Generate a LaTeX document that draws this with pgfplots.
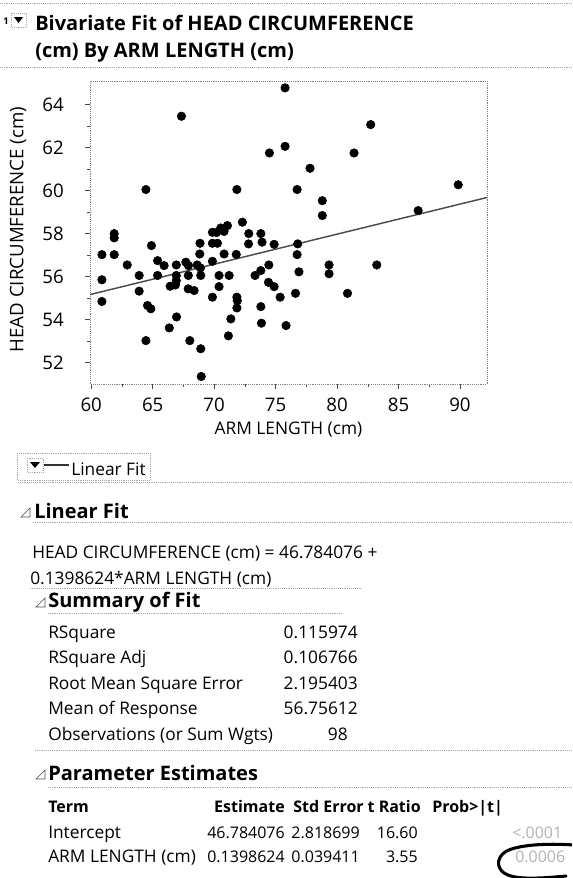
\documentclass[border=0pt]{standalone}
\usepackage{fontspec}
\setmainfont{Open Sans}
\usepackage{pgfplots}
\pgfplotsset{compat=1.18}
\newcommand\rg{\fontsize{13}{15}\selectfont}
\newcommand\nm{\fontsize{12}{14}\selectfont}
\newcommand\bd{\fontsize{15}{18}\selectfont\bfseries}
\newcommand\hd{\fontsize{12}{14}\selectfont\bfseries}
\begin{document}
\begin{tikzpicture}
\useasboundingbox (0,0) rectangle (429pt,-658.5pt);
\clip (0,0) rectangle (429pt,-658.5pt);
\begin{axis}[
  at={(67.5pt,-60.75pt)}, anchor=north west,
  scale only axis, width=297.75pt, height=227.25pt,
  xmin=59.9, xmax=92.2, ymin=51, ymax=65.1,
  xtick={60,65,...,90}, ytick={52,54,...,64},
  minor x tick num=1, minor y tick num=1,
  tick align=outside, major tick length=3.5pt, minor tick length=2pt,
  tick style={gray!60!black, thin},
  axis line style={gray, densely dotted, thin},
  xtick pos=bottom, ytick pos=left,
  /pgf/number format/assume math mode=true,
  ticklabel style={font=\fontsize{14}{16}\selectfont},
  xticklabel style={anchor=center, yshift=-12pt},
  yticklabel style={anchor=east, inner sep=0pt, xshift=-16pt},
  xlabel={ARM LENGTH (cm)}, ylabel={HEAD CIRCUMFERENCE (cm)},
  xlabel style={font=\fontsize{13}{15}\selectfont, at={(axis description cs:0.5,-0.152)}, anchor=center},
  ylabel style={font=\fontsize{14}{16}\selectfont, at={(axis description cs:-0.181,0.51)}, anchor=center},
  clip=false,
]
\addplot[gray!60!black, line width=1.1pt] coordinates {(59.9,55.162) (92.2,59.679)};
\addplot[only marks, mark=*, mark size=3.2pt, black] table {
x y
60.87 57.02
60.87 55.85
60.87 54.84
61.87 58.00
61.87 57.80
61.87 57.02
62.93 56.54
63.90 56.05
63.90 55.32
64.45 60.05
64.45 53.02
64.58 54.65
64.85 54.50
64.90 57.44
65.40 56.74
65.40 56.05
65.93 56.51
66.35 53.61
66.42 55.55
66.92 56.54
66.92 56.05
66.92 55.81
66.85 55.61
66.94 54.12
67.34 63.46
67.70 56.67
67.91 56.51
67.90 56.05
67.89 55.43
68.02 53.02
68.37 55.35
68.62 56.54
68.85 57.55
68.83 57.05
68.91 56.05
68.88 56.40
68.91 52.64
68.95 51.35
69.86 58.06
70.20 58.05
69.86 57.55
69.86 56.71
69.86 55.04
70.27 57.55
70.40 56.05
70.40 55.53
70.54 58.26
70.81 58.10
70.81 57.05
71.08 58.37
71.22 56.05
71.16 53.24
71.36 54.03
71.85 60.05
71.80 57.03
71.85 55.04
71.88 54.88
71.85 54.54
72.30 58.53
72.82 58.00
72.80 57.52
73.33 56.05
73.80 58.00
73.90 57.60
73.80 56.28
73.80 54.60
73.85 53.83
74.50 61.75
74.45 56.54
74.42 55.73
74.88 57.50
74.88 55.53
75.37 55.04
75.77 64.78
75.77 62.06
75.85 53.72
76.75 60.05
76.80 57.52
76.75 57.02
76.90 56.22
76.62 55.22
77.80 61.04
78.80 59.53
78.80 58.84
79.35 56.54
79.35 56.13
80.85 55.22
81.38 61.75
82.74 63.07
83.23 56.54
86.60 59.07
89.86 60.27
};
\end{axis}
\begin{scope}[x=0.75pt,y=-0.75pt]
% separators
\draw[gray!70, densely dotted] (0,3) -- (572,3);
\draw[gray!70, densely dotted] (0,67) -- (572,67);
\draw[gray!70, densely dotted] (18,482) -- (572,482);
\draw[gray!70, densely dotted] (33,522) -- (572,522);
\draw[gray!70, densely dotted] (30,588) -- (362,588);
\draw[gray!70, densely dotted] (48,613) -- (342,613);
\draw[gray!70, densely dotted] (35,750) -- (572,750);
\draw[gray!70, densely dotted] (48,787) -- (572,787);
% top icon
\node[anchor=base west, inner sep=0, font=\fontsize{7}{8}\selectfont\bfseries] at (3,24) {1};
\draw[gray!70, densely dotted] (11,13) rectangle (26,27);
\fill[black] (14,17) -- (23,17) -- (18.5,23) -- cycle;
% title
\node[anchor=base west, inner sep=0] at (35,30) {\bd Bivariate Fit of HEAD CIRCUMFERENCE};
\node[anchor=base west, inner sep=0] at (35,57) {\bd (cm) By ARM LENGTH (cm)};
% legend button
\draw[gray!70, densely dotted] (17,453) rectangle (150,480);
\draw[gray!70, densely dotted] (27,458) rectangle (43,472);
\fill[black] (30,462) -- (40,462) -- (35,468) -- cycle;
\draw[gray!40!black, line width=0.8pt] (44,465) -- (69,465);
\node[anchor=base west, inner sep=0] at (71,475) {\rg Linear Fit};
% disclosure triangles
\draw[gray!60!black] (21,517) -- (30,508) -- (30,517) -- cycle;
\draw[gray!60!black] (36,607) -- (45,598) -- (45,607) -- cycle;
\draw[gray!60!black] (36,779) -- (45,770) -- (45,779) -- cycle;
% Linear fit
\node[anchor=base west, inner sep=0] at (34,518) {\bd Linear Fit};
\node[anchor=base west, inner sep=0] at (32,558) {\rg HEAD CIRCUMFERENCE (cm) = 46.784076 +};
\node[anchor=base west, inner sep=0] at (30,584) {\rg 0.1398624*ARM LENGTH (cm)};
% summary of fit
\node[anchor=base west, inner sep=0] at (48,607) {\bd Summary of Fit};
\node[anchor=base west, inner sep=0] at (48,638) {\rg RSquare};
\node[anchor=base west, inner sep=0] at (48,663.5) {\rg RSquare Adj};
\node[anchor=base west, inner sep=0] at (48,689) {\rg Root Mean Square Error};
\node[anchor=base west, inner sep=0] at (48,714.5) {\rg Mean of Response};
\node[anchor=base west, inner sep=0] at (48,740) {\rg Observations (or Sum Wgts)};
\node[anchor=base east, inner sep=0] at (358,638) {\rg 0.115974};
\node[anchor=base east, inner sep=0] at (358,663.5) {\rg 0.106766};
\node[anchor=base east, inner sep=0] at (358,689) {\rg 2.195403};
\node[anchor=base east, inner sep=0] at (358,714.5) {\rg 56.75612};
\node[anchor=base east, inner sep=0] at (348,740) {\rg 98};
% parameter estimates
\node[anchor=base west, inner sep=0] at (48,780) {\bd Parameter Estimates};
\node[anchor=base west, inner sep=0] at (48,812) {\hd Term};
\node[anchor=base east, inner sep=0] at (285,812) {\hd Estimate};
\node[anchor=base east, inner sep=0] at (364,812) {\hd Std Error};
\node[anchor=base east, inner sep=0] at (421,812) {\hd t Ratio};
\node[anchor=base west, inner sep=0] at (432,812) {\hd Prob>|t|};
\node[anchor=base west, inner sep=0] at (48,838) {\rg Intercept};
\node[anchor=base east, inner sep=0] at (285,838) {\nm 46.784076};
\node[anchor=base east, inner sep=0] at (360,838) {\nm 2.818699};
\node[anchor=base east, inner sep=0] at (418,838) {\nm 16.60};
\node[anchor=base west, inner sep=0, text=gray!60] at (512,838) {\nm <.0001};
\node[anchor=base west, inner sep=0] at (48,862) {\rg ARM LENGTH (cm)};
\node[anchor=base east, inner sep=0] at (285,862) {\nm 0.1398624};
\node[anchor=base east, inner sep=0] at (360,862) {\nm 0.039411};
\node[anchor=base east, inner sep=0] at (418,862) {\nm 3.55};
\node[anchor=base west, inner sep=0, text=gray!60] at (515,862) {\nm 0.0006};
% hand-drawn circle
\draw[black, line width=2.3pt, line cap=round] (574,845) .. controls (545,843) and (516,845) .. (505,852)
  .. controls (495,859) and (497,871) .. (508,875) .. controls (520,880) and (545,878) .. (566,876);
\end{scope}
\end{tikzpicture}
\end{document}
